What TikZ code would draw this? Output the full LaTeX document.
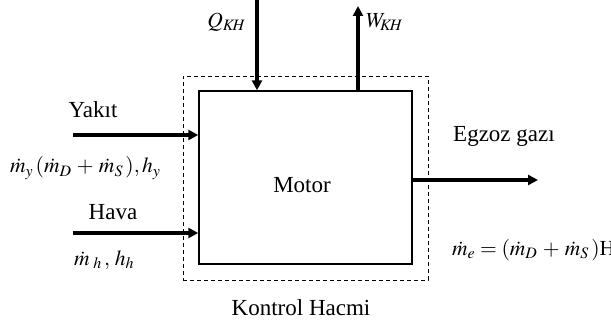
\documentclass[tikz,border=0pt]{standalone}
\usepackage{mathptmx}
\usepackage{fontspec}
\setmainfont{Liberation Serif}
\usetikzlibrary{arrows.meta}

\begin{document}
\begin{tikzpicture}[
  x=1pt,y=1pt,
  line join=miter,
  txt/.style={font=\fontsize{23}{26}\selectfont,inner sep=0pt},
  eqn/.style={font=\fontsize{21.5}{25}\selectfont,inner sep=0pt},
  flow/.style={-{Triangle[length=10pt,width=10pt]},line width=3.2pt},
  box/.style={draw,line width=1.4pt,minimum width=213pt,minimum height=173pt,inner sep=0pt},
  kh/.style={draw,line width=.9pt,dash pattern=on 4pt off 3pt,minimum width=245pt,minimum height=204pt,inner sep=0pt}
]
\useasboundingbox (0,0) rectangle (611,324);
\clip (0,0) rectangle (611,324);

% control volume and engine
\node[kh] (cv) at (305.5,146) {};
\node[box] (motor) at (305.5,146.5) {};
\node[txt] (motorlbl) at (302,139) {Motor};
\node[txt] (cvlbl) at (301,16) {Kontrol Hacmi};

% free ends of the flows
\coordinate (yakitin) at (73,189);
\coordinate (havain) at (73,91);
\coordinate (qin) at (257,326);
\coordinate (wout) at (358,318);
\coordinate (egzout) at (538,144);

% inflows
\draw[flow] (yakitin) -- (yakitin -| motor.west);
\draw[flow] (havain) -- (havain -| motor.west);
\draw[flow] (qin) -- (qin |- motor.north);

% outflows
\draw[flow] (wout |- motor.north) -- (wout);
\draw[flow] (egzout -| motor.east) -- (egzout);

% labels
\node[txt] (yakit) at (93,214) {Yak\i t};
\node[eqn,anchor=west] (yakiteq) at (10,156)
  {$\dot m_{y}\,(\dot m_{D}\mathbin{\,+\,}\dot m_{S}\,),h_{y}$};
\node[txt] (hava) at (113,112) {Hava};
\node[eqn,anchor=west] (havaeq) at (74,64) {$\dot m_{\;h}\,,\,h_{h}$};
\node[eqn,anchor=east] (qlbl) at (246,302) {$Q_{K\!H}$};
\node[eqn,anchor=west] (wlbl) at (366,302) {$W_{\!K\!H}$};
\node[txt,anchor=west] (egz) at (453,188) {Egzoz gaz\i};
\node[eqn,anchor=west] (egzeq) at (452,74)
  {$\dot m_{e}=(\dot m_{D}\mathbin{\,+\,}\dot m_{S}\,)$H};

\end{tikzpicture}
\end{document}
